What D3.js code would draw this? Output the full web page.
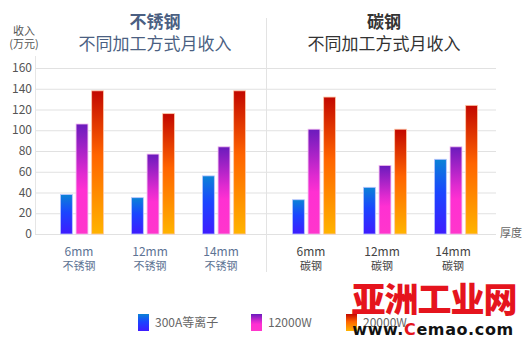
<!DOCTYPE html>
<html>
<head>
<meta charset="utf-8">
<script src="https://cdn.jsdelivr.net/npm/d3@7/dist/d3.min.js"></script>
<style>
  html, body { margin: 0; padding: 0; background: #fff; }
  svg { display: block; font-family: "Noto Sans CJK SC", "Noto Sans", sans-serif; }
</style>
</head>
<body>
<svg id="chart" width="528" height="345"></svg>
<script>
// Thickness categories and the two materials
const thickness = ["6mm", "12mm", "14mm"];
const materials = ["不锈钢", "碳钢"];
const seriesNames = ["300A等离子", "12000W", "20000W"];

// Monthly income (万元) per process, stainless then carbon steel
const plasma300A = [38, 35, 56, 33, 45, 72];
const fiber12000W = [106, 77, 84, 101, 66, 84];
const fiber20000W = [138, 116, 138, 132, 101, 124];

const yTicks = [0, 20, 40, 60, 80, 100, 120, 140, 160];

const svg = d3.select("#chart");
const plotLeft = 35, plotRight = 496, plotTop = 68, plotBottom = 234, divX = 266;

const y = d3.scaleLinear().domain([0, 160]).range([plotBottom, plotTop]);

// Gradients
const defs = svg.append("defs");
const gradStops = [
  [["0%", "#0b82d6"], ["45%", "#1b45ff"], ["100%", "#3e1bff"]],
  [["0%", "#6a1bbd"], ["45%", "#e02ad0"], ["60%", "#ff30d2"], ["100%", "#ff36cc"]],
  [["0%", "#c20800"], ["45%", "#ff6400"], ["100%", "#ffb400"]]
];
gradStops.forEach((stops, i) => {
  const g = defs.append("linearGradient").attr("id", "g" + i)
    .attr("x1", 0).attr("y1", 0).attr("x2", 0).attr("y2", 1);
  stops.forEach(s => g.append("stop").attr("offset", s[0]).attr("stop-color", s[1]));
});
const strokeCols = ["#b9c4ff", "#f2b6ee", "#ffc9a8"];

// Gridlines
svg.append("g").selectAll("line").data(yTicks).join("line")
  .attr("x1", plotLeft).attr("x2", plotRight)
  .attr("y1", d => y(d) + 0.5).attr("y2", d => y(d) + 0.5)
  .attr("stroke", "#e1e1e1").attr("stroke-width", 1);

// Left axis line and center divider
svg.append("line").attr("x1", plotLeft + 0.5).attr("x2", plotLeft + 0.5)
  .attr("y1", 56).attr("y2", plotBottom).attr("stroke", "#e6e6e6");
svg.append("line").attr("x1", divX + 0.5).attr("x2", divX + 0.5)
  .attr("y1", 18).attr("y2", 272).attr("stroke", "#e3e3e3");

// Y tick labels
svg.append("g").selectAll("text").data(yTicks).join("text")
  .attr("x", 32).attr("y", d => y(d)).attr("dy", "0.35em")
  .attr("text-anchor", "end").attr("font-size", 12).attr("fill", "#555")
  .text(d => d);

// Y axis title
svg.append("text").attr("x", 24).attr("y", 35).attr("text-anchor", "middle")
  .attr("font-size", 11).attr("fill", "#555").text("收入");
svg.append("text").attr("x", 24).attr("y", 48).attr("text-anchor", "middle")
  .attr("font-size", 11).attr("fill", "#555").text("(万元)");

// x scales for each material panel
const panels = [
  { range: [46.5, 259.5], center: 155, title: "不锈钢", color: "#4b5f82", labelColor: "#5d7394" },
  { range: [278.5, 491.5], center: 384, title: "碳钢", color: "#333", labelColor: "#444" }
];
const series = [plasma300A, fiber12000W, fiber20000W];
const inner = d3.scaleBand().domain(d3.range(series.length)).range([-21.5, 21.5]).paddingInner(0.24);

panels.forEach((p, pi) => {
  const x = d3.scaleBand().domain(thickness).range(p.range);
  const g = svg.append("g");
  thickness.forEach((t, ti) => {
    const idx = pi * thickness.length + ti;
    const cx = x(t) + x.bandwidth() / 2;
    series.forEach((s, si) => {
      g.append("rect")
        .attr("x", cx + inner(si))
        .attr("y", y(s[idx]))
        .attr("width", inner.bandwidth())
        .attr("height", y(0) - y(s[idx]))
        .attr("fill", `url(#g${si})`)
        .attr("stroke", strokeCols[si]).attr("stroke-width", 0.8);
    });
    g.append("text").attr("x", cx - 3).attr("y", 256).attr("text-anchor", "middle")
      .attr("font-size", 12).attr("fill", p.labelColor).text(t);
    g.append("text").attr("x", cx - 3).attr("y", 270).attr("text-anchor", "middle")
      .attr("font-size", 11).attr("fill", p.labelColor).text(materials[pi]);
  });
  g.append("text").attr("x", p.center).attr("y", 28).attr("text-anchor", "middle")
    .attr("font-size", 17).attr("font-weight", "bold").attr("fill", p.color).text(p.title);
  g.append("text").attr("x", p.center).attr("y", 50).attr("text-anchor", "middle")
    .attr("font-size", 17).attr("fill", p.color).text("不同加工方式月收入");
});

// X axis title
svg.append("text").attr("x", 500).attr("y", 237).attr("font-size", 11)
  .attr("fill", "#666").text("厚度");

// Legend
const legendX = [138, 251, 346];
seriesNames.forEach((n, i) => {
  svg.append("rect").attr("x", legendX[i]).attr("y", 314).attr("width", 11).attr("height", 17)
    .attr("fill", `url(#g${i})`);
  svg.append("text").attr("x", legendX[i] + 17).attr("y", 323).attr("dy", "0.35em")
    .attr("font-size", 12).attr("fill", "#666").text(n);
});

// Site watermark
svg.append("text").attr("x", 434).attr("y", 312).attr("text-anchor", "middle")
  .attr("font-size", 34).attr("font-weight", "900").attr("fill", "#e5141d")
  .attr("letter-spacing", -1).text("亚洲工业网");
const wm = svg.append("text").attr("x", 433).attr("y", 335).attr("text-anchor", "middle")
  .attr("font-family", "DejaVu Sans, sans-serif")
  .attr("font-size", 16).attr("font-weight", "bold").attr("fill", "#111")
  .attr("letter-spacing", 0.6);
wm.append("tspan").text("www.");
wm.append("tspan").attr("fill", "#e5141d").text("C");
wm.append("tspan").text("emao.com");
</script>
</body>
</html>
